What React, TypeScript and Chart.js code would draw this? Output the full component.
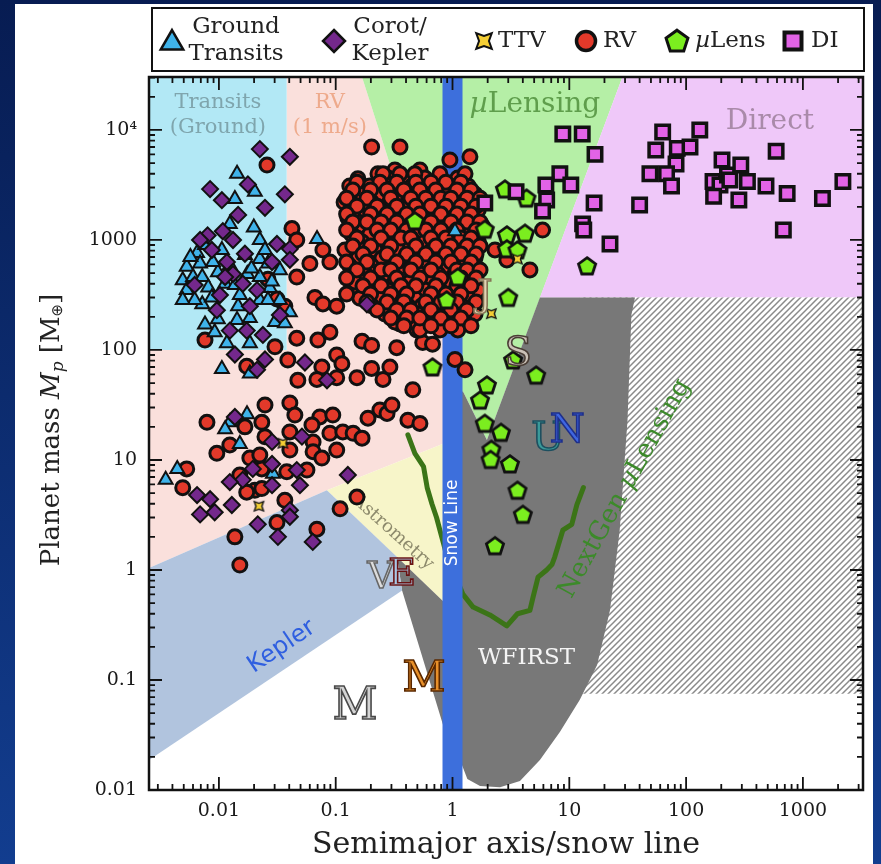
import React, { useEffect, useRef } from 'react';
import { Chart, registerables } from 'chart.js';

Chart.register(...registerables);

type P = [number, number];

const SERIF = '"DejaVu Serif", serif';
const SANS = '"DejaVu Sans", sans-serif';

const X_MIN = 0.00252;
const X_MAX = 3270;
const Y_MIN = 0.01;
const Y_MAX = 30300;

const xTicks = [0.01, 0.1, 1, 10, 100, 1000];
const xTickLabels = ['0.01', '0.1', '1', '10', '100', '1000'];
const yTicks = [0.01, 0.1, 1, 10, 100, 1000, 10000];
const yTickLabels = ['0.01', '0.1', '1', '10', '100', '1000', '10⁴'];

// ---- data: [semimajor axis / snow line, planet mass (Earth masses)] ----
const groundTransits: P[] = [
  [0.0143, 4000], [0.0137, 2360], [0.0203, 2740], [0.0124, 1400], [0.0199, 1300], [0.0692, 1020],
  [0.0224, 1000], [0.0065, 760], [0.0053, 570], [0.0069, 610], [0.0049, 430], [0.006, 460],
  [0.0072, 460], [0.0053, 350], [0.0081, 370], [0.0098, 510], [0.0224, 670], [0.0263, 610],
  [0.0175, 490], [0.0224, 460], [0.0224, 285], [0.0146, 250], [0.0072, 260], [0.0098, 190],
  [0.0092, 145], [0.0143, 187], [0.0117, 115], [0.0184, 115], [0.0106, 67], [0.0184, 61],
  [0.0302, 180], [0.0367, 175], [0.0174, 26], [0.0124, 22], [0.0113, 19], [0.0151, 14],
  [0.0044, 8.3], [0.0035, 6.6], [0.029, 7.5], [1.05, 1200], [0.0062, 285], [0.0087, 300],
  [0.0113, 400], [0.0151, 316], [0.0273, 365], [0.0333, 285], [0.0405, 220], [0.0124, 590],
  [0.0167, 730], [0.0248, 810], [0.0076, 900], [0.0333, 530],
  [0.0057, 700], [0.0089, 630], [0.0106, 811], [0.019, 550], [0.0284, 420], [0.0049, 285],
  [0.0137, 390], [0.0263, 285], [0.0184, 195], [0.0076, 170],
];

const corotKepler: P[] = [
  [0.0224, 6700], [0.0405, 5700], [0.0084, 2900], [0.0106, 2300], [0.0177, 3200], [0.0367, 2600],
  [0.008, 1100], [0.0132, 1000], [0.0314, 920], [0.0405, 830], [0.0087, 810], [0.0117, 630],
  [0.0167, 750], [0.0405, 660], [0.0132, 490], [0.0102, 316], [0.016, 400], [0.0212, 350],
  [0.0184, 250], [0.0096, 230], [0.185, 260], [0.0124, 150], [0.0173, 150], [0.0238, 137],
  [0.0137, 91], [0.0248, 82], [0.0212, 66], [0.0545, 77], [0.0842, 53], [0.0137, 24.6],
  [0.0285, 14.6], [0.0514, 16.3], [0.0285, 9.2], [0.0195, 8.3], [0.0464, 8.1], [0.016, 6.6],
  [0.0124, 6.3], [0.0285, 5.9], [0.0494, 5.9], [0.127, 7.3], [0.0065, 4.8], [0.0084, 4.4],
  [0.0069, 3.2], [0.0092, 3.35], [0.0129, 3.9], [0.0215, 2.6], [0.0405, 3.5], [0.0405, 3.05],
  [0.032, 2.0], [0.0636, 1.8],
  [0.0069, 1000], [0.0108, 1200], [0.0146, 1690], [0.0248, 1960], [0.0113, 460], [0.0285, 630],
  [0.0062, 390], [0.0333, 208],
];

const ttv: P[] = [[0.0353, 14.2], [0.022, 3.8], [3.6, 670], [2.15, 214]];

const radialVelocity: P[] = [
  // sparse
  [0.203, 7000], [0.355, 7000], [0.95, 5340], [1.41, 5700], [0.0258, 4800], [0.0422, 1270],
  [0.0464, 1000], [0.0777, 811], [0.0892, 630], [0.0601, 610], [0.0263, 440], [0.0464, 460],
  [0.0664, 300], [0.0777, 262], [0.0367, 250], [0.0314, 290], [0.155, 3600], [0.23, 4000],
  [0.137, 2200], [0.171, 2300], [0.226, 3000], [0.264, 2850], [0.152, 1720], [0.196, 1520],
  [0.254, 1400], [0.171, 1130], [0.239, 1060], [0.132, 811], [0.185, 750], [0.152, 560],
  [0.226, 610], [0.185, 433], [0.254, 460], [0.141, 351], [0.239, 320], [0.102, 250],
  [0.0076, 123], [0.0302, 107], [0.0173, 71], [0.0474, 53], [0.0389, 81], [0.0464, 128],
  [0.0704, 123], [0.0892, 145], [0.0761, 70], [0.102, 90], [0.113, 75], [0.069, 54],
  [0.102, 56], [0.152, 56], [0.168, 120], [0.203, 110], [0.203, 68], [0.254, 54],
  [0.0248, 31.6], [0.0405, 33], [0.0447, 25.6], [0.0732, 24.6], [0.0944, 25.6], [0.0626, 20.8],
  [0.0079, 22], [0.0167, 20], [0.0233, 22], [0.0248, 16.3], [0.0405, 18], [0.064, 14.6],
  [0.0892, 17.5], [0.115, 18], [0.141, 17.5], [0.168, 15.8], [0.189, 24], [0.239, 28.5],
  [0.275, 26.5], [0.0124, 13.7], [0.0096, 11.5], [0.0184, 10.4], [0.0233, 8.3], [0.0224, 11.1],
  [0.0405, 12.3], [0.064, 11.9], [0.102, 12.3], [0.0761, 10.4], [0.0567, 8.1], [0.0381, 7.8],
  [0.0053, 8.3], [0.0049, 5.6], [0.0203, 5.3], [0.0151, 7.3], [0.0233, 5.5], [0.0173, 5.1],
  [0.152, 4.6], [0.109, 3.6], [0.0367, 4.3], [0.0314, 2.7], [0.069, 2.35], [0.0137, 2.0],
  [0.0151, 1.11], [0.333, 105], [0.291, 70], [1.05, 82], [1.28, 66], [0.457, 43.5],
  [0.303, 31.6], [0.415, 23], [0.526, 21.5], [0.556, 117], [0.674, 113], [0.495, 152],
  [0.355, 172], [0.641, 208], [5.9, 1230], [4.6, 534], [2.92, 658], [2.31, 811],
  // dense cloud
  [0.321, 4330], [0.526, 4330],
  [0.28, 3650], [0.391, 3650], [0.58, 3650], [1.11, 3650],
  [0.132, 3100], [0.196, 3100], [0.321, 3100], [0.449, 3100], [0.75, 3100], [0.95, 3100], [1.36, 3100],
  [0.168, 2600], [0.239, 2600], [0.369, 2600], [0.526, 2600], [0.666, 2600], [0.861, 2600], [1.11, 2600], [1.56, 2600],
  [0.118, 2200], [0.203, 2200], [0.291, 2200], [0.415, 2200], [0.58, 2200], [0.78, 2200], [0.988, 2200], [1.28, 2200],
  [0.146, 1870], [0.178, 1870], [0.249, 1870], [0.341, 1870], [0.476, 1870], [0.641, 1870], [0.913, 1870], [1.2, 1870], [1.66, 1870],
  [0.127, 1590], [0.217, 1590], [0.303, 1590], [0.391, 1590], [0.547, 1590], [0.75, 1590], [1.05, 1590], [1.41, 1590],
  [0.161, 1340], [0.264, 1340], [0.355, 1340], [0.449, 1340], [0.615, 1340], [0.861, 1340], [1.2, 1340], [1.8, 1340],
  [0.137, 1130], [0.196, 1130], [0.321, 1130], [0.505, 1130], [0.707, 1130], [0.95, 1130], [1.41, 1130],
  [0.168, 960], [0.28, 960], [0.391, 960], [0.58, 960], [0.811, 960], [1.16, 960], [1.66, 960],
  [0.12, 811], [0.217, 811], [0.341, 811], [0.476, 811], [0.666, 811], [0.988, 811], [1.36, 811],
  [0.155, 685], [0.249, 685], [0.391, 685], [0.547, 685], [0.78, 685], [1.11, 685], [1.56, 685],
  [0.132, 580], [0.203, 580], [0.303, 580], [0.449, 580], [0.615, 580], [0.913, 580], [1.28, 580],
  [0.178, 490], [0.264, 490], [0.369, 490], [0.526, 490], [0.75, 490], [1.05, 490], [1.47, 490],
  [0.146, 415], [0.217, 415], [0.321, 415], [0.432, 415], [0.641, 415], [0.913, 415], [1.28, 415],
  [0.189, 351], [0.28, 351], [0.391, 351], [0.58, 351], [0.78, 351], [1.11, 351], [1.66, 351],
  [0.161, 296], [0.239, 296], [0.341, 296], [0.476, 296], [0.666, 296], [0.988, 296], [1.36, 296],
  [0.203, 252], [0.303, 252], [0.415, 252], [0.547, 252], [0.811, 252], [1.2, 252],
  [0.264, 212], [0.369, 212], [0.505, 212], [0.707, 212], [1.05, 212], [1.56, 212],
  [0.321, 180], [0.449, 180], [0.615, 180], [0.913, 180], [1.28, 180],
  [0.526, 152], [0.78, 152], [1.11, 152],
  [0.254, 3990], [0.355, 3990], [0.476, 3990], [0.78, 3990], [1.28, 3990],
  [0.152, 3350], [0.239, 3350], [0.333, 3350], [0.486, 3350], [0.654, 3350], [0.878, 3350], [1.18, 3350],
  [0.14, 2850], [0.199, 2850], [0.275, 2850], [0.383, 2850], [0.526, 2850], [0.72, 2850], [1.09, 2850], [1.44, 2850],
  [0.124, 2400], [0.185, 2400], [0.296, 2400], [0.44, 2400], [0.591, 2400], [0.795, 2400], [0.969, 2400], [1.33, 2400], [1.72, 2400],
  [0.152, 2030], [0.226, 2030], [0.333, 2030], [0.486, 2030], [0.654, 2030], [0.878, 2030], [1.18, 2030], [1.59, 2030],
  [0.124, 1720], [0.199, 1720], [0.275, 1720], [0.405, 1720], [0.526, 1720], [0.795, 1720], [1.09, 1720], [1.44, 1720],
  [0.14, 1460], [0.185, 1460], [0.245, 1460], [0.333, 1460], [0.486, 1460], [0.654, 1460], [0.969, 1460], [1.33, 1460], [1.72, 1460],
  [0.124, 1230], [0.226, 1230], [0.296, 1230], [0.405, 1230], [0.591, 1230], [0.795, 1230], [1.09, 1230], [1.59, 1230],
  [0.152, 1040], [0.245, 1040], [0.362, 1040], [0.44, 1040], [0.654, 1040], [0.878, 1040], [1.18, 1040], [1.44, 1040],
  [0.14, 880], [0.199, 880], [0.296, 880], [0.486, 880], [0.72, 880], [0.969, 880], [1.33, 880], [1.72, 880],
  [0.171, 745], [0.275, 745], [0.405, 745], [0.591, 745], [0.878, 745], [1.18, 745], [1.59, 745],
  [0.124, 630], [0.185, 630], [0.333, 630], [0.486, 630], [0.72, 630], [0.969, 630], [1.44, 630],
  [0.152, 534], [0.245, 534], [0.296, 534], [0.44, 534], [0.654, 534], [1.09, 534], [1.33, 534], [1.72, 534],
  [0.124, 450], [0.199, 450], [0.333, 450], [0.526, 450], [0.795, 450], [1.18, 450], [1.59, 450],
  [0.171, 383], [0.245, 383], [0.362, 383], [0.486, 383], [0.72, 383], [1.09, 383], [1.44, 383],
  [0.124, 322], [0.199, 322], [0.296, 322], [0.405, 322], [0.654, 322], [0.878, 322], [1.18, 322],
  [0.185, 273], [0.275, 273], [0.383, 273], [0.591, 273], [0.795, 273], [1.09, 273], [1.59, 273],
  [0.226, 231], [0.333, 231], [0.44, 231], [0.654, 231], [0.969, 231], [1.33, 231],
  [0.296, 195], [0.405, 195], [0.526, 195], [0.795, 195], [1.18, 195],
  [0.383, 166], [0.654, 166], [0.969, 166], [1.44, 166],
];

const microlensing: P[] = [
  [0.476, 1490], [2.81, 2900], [4.3, 2400], [1.89, 1250], [2.92, 1110], [4.17, 1150],
  [2.92, 830], [3.6, 811], [1.11, 460], [0.89, 285], [3.0, 300], [14.2, 580],
  [0.674, 70], [3.3, 81], [5.2, 59], [1.97, 48], [1.72, 35], [1.89, 21.5],
  [2.6, 17.8], [2.15, 12.5], [2.12, 10.1], [3.1, 9.2], [3.6, 5.3], [4.0, 3.2], [2.31, 1.66],
];

const directImaging: P[] = [
  [8.8, 9200], [12.9, 9200], [16.6, 6000], [8.3, 4000], [6.3, 3160], [10.3, 3160],
  [1.89, 2170], [3.5, 2740], [6.4, 2310], [5.9, 1830], [16.3, 2170], [13.0, 1400],
  [13.3, 1230], [22.3, 920], [63, 9600], [131, 10000], [55, 6580], [84, 6800],
  [108, 7000], [82, 4900], [49, 4000], [68, 4000], [75, 3100], [40, 2080],
  [203, 5340], [170, 3400], [195, 3160], [226, 3900], [237, 3510], [294, 4810],
  [335, 3400], [172, 2500], [283, 2310], [483, 3100], [590, 6400], [733, 2650],
  [680, 1230], [1470, 2380], [2200, 3400],
];

const nextGenLensing: P[] = [
  [0.415, 16.9], [0.476, 11.5], [0.565, 8.7], [0.607, 5.6], [0.666, 4.0], [0.73, 3.0],
  [0.78, 2.3], [0.89, 1.37], [1.05, 0.9], [1.23, 0.6], [1.5, 0.46], [2.09, 0.39],
  [2.92, 0.31], [3.6, 0.4], [4.6, 0.43], [4.9, 0.57], [5.4, 0.86], [6.4, 1.0],
  [7.1, 1.12], [7.5, 1.31], [8.8, 2.3], [10.5, 2.6], [11.6, 3.9], [13.2, 5.6],
];

const snowLine: P[] = [[1, Y_MIN], [1, Y_MAX]];

// ---- sensitivity regions (data coordinates) ----
const transitRegion: P[] = [[X_MIN, 100], [0.038, 100], [0.038, Y_MAX], [X_MIN, Y_MAX]];
const rvRegion: P[] = [[X_MIN, 100], [0.038, 100], [0.038, Y_MAX], [0.168, Y_MAX], [1.0, 81], [1.0, 15.2], [0.084, 5.3], [X_MIN, 1.04]];
const lensRegion: P[] = [[0.168, Y_MAX], [28.5, Y_MAX], [1.97, 15.2], [1.23, 42], [1.0, 42], [1.0, 81]];
const directRegion: P[] = [[28.5, Y_MAX], [X_MAX, Y_MAX], [X_MAX, 300], [5.6, 300]];
const hatchRegion: P[] = [[12.3, 300], [X_MAX, 300], [X_MAX, 0.075], [12.3, 0.075]];
const astrometryRegion: P[] = [[0.084, 5.3], [1.0, 15.2], [1.0, 0.43]];
const wfirstRegion: P[] = [
  [0.37, 0.65], [0.335, 1.31], [1.0, 0.43], [1.0, 42], [1.23, 42], [1.97, 15.2], [5.6, 300],
  [36.5, 300], [34, 208], [31.5, 23], [27, 2.3], [22.3, 0.43], [17.3, 0.137], [12.3, 0.066],
  [8.3, 0.0337], [5.6, 0.0187], [3.78, 0.0121], [2.55, 0.0106], [1.72, 0.0109], [1.34, 0.0126],
  [1.16, 0.0187], [0.83, 0.039],
];
const keplerRegion: P[] = [[X_MIN, 1.04], [0.084, 5.3], [0.335, 1.31], [0.37, 0.65], [X_MIN, 0.0187]];

// ---- drawing helpers ----
function shapePath(ctx: CanvasRenderingContext2D, kind: string, x: number, y: number, r: number) {
  ctx.beginPath();
  if (kind === 'circle') {
    ctx.arc(x, y, r, 0, Math.PI * 2);
  } else if (kind === 'triangle') {
    for (let i = 0; i < 3; i++) {
      const a = -Math.PI / 2 + (i * 2 * Math.PI) / 3;
      const px = x + r * Math.cos(a), py = y + r * Math.sin(a);
      i ? ctx.lineTo(px, py) : ctx.moveTo(px, py);
    }
  } else if (kind === 'diamond') {
    ctx.moveTo(x, y - r); ctx.lineTo(x + r, y); ctx.lineTo(x, y + r); ctx.lineTo(x - r, y);
  } else if (kind === 'square') {
    ctx.rect(x - r, y - r, 2 * r, 2 * r);
  } else if (kind === 'pentagon') {
    for (let i = 0; i < 5; i++) {
      const a = -Math.PI / 2 + (i * 2 * Math.PI) / 5;
      const px = x + r * Math.cos(a), py = y + r * Math.sin(a);
      i ? ctx.lineTo(px, py) : ctx.moveTo(px, py);
    }
  } else if (kind === 'star4') {
    for (let i = 0; i < 8; i++) {
      const a = -Math.PI / 4 + (i * Math.PI) / 4;
      const rr = i % 2 === 0 ? r : r * 0.45;
      const px = x + rr * Math.cos(a), py = y + rr * Math.sin(a);
      i ? ctx.lineTo(px, py) : ctx.moveTo(px, py);
    }
  }
  ctx.closePath();
}

function drawShape(ctx: CanvasRenderingContext2D, kind: string, x: number, y: number, r: number, fill: string, lw: number) {
  shapePath(ctx, kind, x, y, r);
  ctx.fillStyle = fill;
  ctx.fill();
  ctx.lineWidth = lw;
  ctx.strokeStyle = '#111';
  ctx.lineJoin = 'miter';
  ctx.stroke();
}

function makeMarker(kind: string, size: number, r: number, fill: string, lw: number) {
  const c = document.createElement('canvas');
  c.width = size; c.height = size;
  const g = c.getContext('2d') as CanvasRenderingContext2D;
  drawShape(g, kind, size / 2, size / 2 + (kind === 'pentagon' ? 0.7 : 0), r, fill, lw);
  return c;
}

type Run = { t: string; font: string; dy?: number };
function drawRuns(ctx: CanvasRenderingContext2D, runs: Run[], cx: number, cy: number, angle: number, color: string, align = 'center') {
  ctx.save();
  ctx.translate(cx, cy);
  ctx.rotate(angle);
  ctx.fillStyle = color;
  ctx.textBaseline = 'middle';
  ctx.textAlign = 'left';
  let w = 0;
  runs.forEach((r) => { ctx.font = r.font; w += ctx.measureText(r.t).width; });
  let x = align === 'center' ? -w / 2 : 0;
  runs.forEach((r) => {
    ctx.font = r.font;
    ctx.fillText(r.t, x, r.dy || 0);
    x += ctx.measureText(r.t).width;
  });
  ctx.restore();
}

function letter(ctx: CanvasRenderingContext2D, t: string, x: number, y: number, size: number, fill: string, stroke: string) {
  ctx.save();
  ctx.font = `${size}px ${SERIF}`;
  ctx.textAlign = 'center';
  ctx.textBaseline = 'middle';
  ctx.lineWidth = 1.6;
  ctx.strokeStyle = stroke;
  ctx.fillStyle = fill;
  ctx.fillText(t, x, y);
  ctx.strokeText(t, x, y);
  ctx.restore();
}

const mk = (arr: P[]) => arr.map(([x, y]) => ({ x, y }));

export default function App() {
  const ref = useRef<HTMLCanvasElement | null>(null);

  useEffect(() => {
    const canvas = ref.current;
    if (!canvas) return;

    const pentImg = makeMarker('pentagon', 22, 9, '#7bee1f', 2.8);
    const starImg = makeMarker('star4', 15, 6.5, '#f5cf35', 1.4);
    const legendPent = makeMarker('pentagon', 28, 11.5, '#7bee1f', 3);

    const hatchCanvas = document.createElement('canvas');
    hatchCanvas.width = 6; hatchCanvas.height = 6;
    const hg = hatchCanvas.getContext('2d') as CanvasRenderingContext2D;
    hg.fillStyle = '#ffffff'; hg.fillRect(0, 0, 6, 6);
    hg.strokeStyle = '#8a8a8a'; hg.lineWidth = 1.5;
    hg.beginPath();
    hg.moveTo(0, 6); hg.lineTo(6, 0);
    hg.moveTo(-1, 1); hg.lineTo(1, -1);
    hg.moveTo(5, 7); hg.lineTo(7, 5);
    hg.stroke();

    const bgPlugin = {
      id: 'bgPanel',
      beforeDraw(chart: any) {
        const { ctx, width, height } = chart;
        ctx.save();
        const g = ctx.createLinearGradient(0, 0, 0, height);
        g.addColorStop(0, '#071c52');
        g.addColorStop(1, '#123d8f');
        ctx.fillStyle = g;
        ctx.fillRect(0, 0, width, height);
        ctx.fillStyle = '#ffffff';
        ctx.fillRect(15, 4, 858, height - 4);
        ctx.restore();
      },
    };

    const regionPlugin = {
      id: 'regions',
      beforeDatasetsDraw(chart: any) {
        const { ctx, chartArea: a, scales } = chart;
        const X = (v: number) => scales.x.getPixelForValue(v);
        const Y = (v: number) => scales.y.getPixelForValue(v);
        const poly = (pts: P[], fill: any) => {
          ctx.beginPath();
          pts.forEach(([x, y], i) => (i ? ctx.lineTo(X(x), Y(y)) : ctx.moveTo(X(x), Y(y))));
          ctx.closePath();
          ctx.fillStyle = fill;
          ctx.fill();
        };
        ctx.save();
        ctx.beginPath();
        ctx.rect(a.left, a.top, a.right - a.left, a.bottom - a.top);
        ctx.clip();
        poly(rvRegion, '#fae0dc');
        poly(transitRegion, '#b2e8f5');
        poly(lensRegion, '#b5efa6');
        poly(directRegion, '#efc8f9');
        poly(hatchRegion, ctx.createPattern(hatchCanvas, 'repeat'));
        poly(astrometryRegion, '#f7f5c9');
        poly(wfirstRegion, '#787878');
        poly(keplerRegion, '#b1c4de');

        ctx.textAlign = 'center';
        ctx.textBaseline = 'middle';
        ctx.font = `21px ${SERIF}`;
        ctx.fillStyle = '#7fa5ad';
        ctx.fillText('Transits', X(0.0098), Y(17600));
        ctx.fillText('(Ground)', X(0.0098), Y(10600));
        ctx.fillStyle = '#eeaa8c';
        ctx.fillText('RV', X(0.089), Y(17600));
        ctx.fillText('(1 m/s)', X(0.089), Y(10600));
        drawRuns(ctx, [
          { t: 'µ', font: `italic 28px ${SERIF}` },
          { t: 'Lensing', font: `28px ${SERIF}` },
        ], X(5.08), Y(16900), 0, '#5f9e4c');
        ctx.font = `28px ${SERIF}`;
        ctx.fillStyle = '#a98aa9';
        ctx.fillText('Direct', X(522), Y(11800));
        drawRuns(ctx, [{ t: 'Astrometry', font: `18px ${SERIF}` }], X(0.31), Y(2.2), (42 * Math.PI) / 180, '#8d8a6c');
        drawRuns(ctx, [{ t: 'Kepler', font: `24px ${SANS}` }], X(0.0345), Y(0.2), (-34 * Math.PI) / 180, '#2f5fe0');
        drawRuns(ctx, [{ t: 'WFIRST', font: `23px ${SERIF}` }], X(4.3), Y(0.158), 0, '#f4f4f4');
        drawRuns(ctx, [
          { t: 'NextGen ', font: `26px ${SERIF}` },
          { t: 'µ', font: `italic 26px ${SERIF}` },
          { t: 'Lensing', font: `26px ${SERIF}` },
        ], X(29.9), Y(5.5), (-61 * Math.PI) / 180, '#3c8a2a');
        ctx.restore();
      },
      afterDatasetDraw(chart: any, args: any) {
        const ds = chart.data.datasets[args.index];
        if (ds.label !== 'Snow line') return;
        const { ctx, scales } = chart;
        drawRuns(ctx, [{ t: 'Snow Line', font: `17px ${SANS}` }],
          scales.x.getPixelForValue(1), scales.y.getPixelForValue(2.68), -Math.PI / 2, '#ffffff');
      },
      afterDatasetsDraw(chart: any) {
        const { ctx, scales } = chart;
        const X = (v: number) => scales.x.getPixelForValue(v);
        const Y = (v: number) => scales.y.getPixelForValue(v);
        letter(ctx, 'M', X(0.146), Y(0.056), 44, '#d4d4d4', '#4a4a4a');
        letter(ctx, 'M', X(0.57), Y(0.1), 42, '#e8902a', '#5a2800');
        letter(ctx, 'V', X(0.245), Y(0.85), 38, '#dcdcdc', '#666666');
        letter(ctx, 'E', X(0.37), Y(0.9), 38, '#a9c8e6', '#6a1212');
        letter(ctx, 'J', X(1.89), Y(310), 38, '#e2d4b4', '#857555');
        letter(ctx, 'S', X(3.65), Y(90), 40, '#cbc2b7', '#4a3e36');
        letter(ctx, 'U', X(6.6), Y(15.2), 40, '#3a9a9a', '#1d4f5f');
        letter(ctx, 'N', X(9.6), Y(18.0), 40, '#3f66e0', '#1e2f8a');
      },
      afterDraw(chart: any) {
        const { ctx, chartArea: a, scales } = chart;
        ctx.save();
        ctx.strokeStyle = '#111';
        ctx.lineWidth = 2.5;
        ctx.strokeRect(a.left, a.top, a.right - a.left, a.bottom - a.top);
        const minors: number[] = [];
        for (let e = -3; e <= 4; e++) for (let m = 2; m <= 9; m++) minors.push(m * Math.pow(10, e));
        ctx.lineWidth = 1.8;
        ctx.beginPath();
        const xt = (v: number, len: number) => {
          if (v < X_MIN || v > X_MAX) return;
          const px = scales.x.getPixelForValue(v);
          ctx.moveTo(px, a.bottom); ctx.lineTo(px, a.bottom - len);
          ctx.moveTo(px, a.top); ctx.lineTo(px, a.top + len);
        };
        const yt = (v: number, len: number) => {
          if (v < Y_MIN || v > Y_MAX) return;
          const py = scales.y.getPixelForValue(v);
          ctx.moveTo(a.left, py); ctx.lineTo(a.left + len, py);
          ctx.moveTo(a.right, py); ctx.lineTo(a.right - len, py);
        };
        xTicks.forEach((v) => xt(v, 13));
        yTicks.forEach((v) => yt(v, 13));
        minors.forEach((v) => { xt(v, 6); yt(v, 6); });
        ctx.stroke();

        drawRuns(ctx, [
          { t: 'Planet mass ', font: `26px ${SERIF}` },
          { t: 'M', font: `italic 26px ${SERIF}` },
          { t: 'p', font: `italic 17px ${SERIF}`, dy: 7 },
          { t: ' [M', font: `26px ${SERIF}` },
          { t: '⊕', font: `15px ${SANS}`, dy: 6 },
          { t: ']', font: `26px ${SERIF}` },
        ], 52, 430, -Math.PI / 2, '#222222');

        ctx.fillStyle = '#ffffff';
        ctx.fillRect(152, 8, 712, 63);
        ctx.lineWidth = 2;
        ctx.strokeStyle = '#111';
        ctx.strokeRect(152, 8, 712, 63);
        drawShape(ctx, 'triangle', 172, 43, 13, '#3fb3ea', 2.5);
        drawShape(ctx, 'diamond', 334, 41, 11, '#74288c', 2.5);
        drawShape(ctx, 'star4', 484, 41, 11, '#f5cf35', 2);
        drawShape(ctx, 'circle', 586, 41, 9.5, '#e3392a', 3.5);
        ctx.drawImage(legendPent, 677 - 14, 41 - 14);
        drawShape(ctx, 'square', 793, 41, 8.5, '#e263e6', 4);
        ctx.fillStyle = '#222';
        ctx.font = `23px ${SERIF}`;
        ctx.textBaseline = 'middle';
        ctx.textAlign = 'center';
        ctx.fillText('Ground', 236, 27);
        ctx.fillText('Transits', 236, 54);
        ctx.fillText('Corot/', 390, 27);
        ctx.fillText('Kepler', 390, 54);
        ctx.textAlign = 'left';
        ctx.fillText('TTV', 498, 41);
        ctx.fillText('RV', 603, 41);
        ctx.fillText('DI', 811, 41);
        ctx.restore();
        drawRuns(ctx, [
          { t: 'µ', font: `italic 23px ${SERIF}` },
          { t: 'Lens', font: `23px ${SERIF}` },
        ], 695, 41, 0, '#222222', 'left');
      },
    };

    const chart = new Chart(canvas, {
      type: 'scatter',
      data: {
        datasets: [
          {
            label: 'NextGen µLensing', data: mk(nextGenLensing), showLine: true,
            borderColor: '#3b7417', borderWidth: 5, pointRadius: 0, borderJoinStyle: 'round',
            borderCapStyle: 'round', order: 20,
          } as any,
          {
            label: 'Snow line', data: mk(snowLine), showLine: true, borderColor: '#3d6fdc',
            borderWidth: 20, pointRadius: 0, borderCapStyle: 'butt', order: 19,
          },
          {
            label: 'RV', data: mk(radialVelocity), pointStyle: 'circle', pointRadius: 7,
            pointBackgroundColor: '#e3392a', pointBorderColor: '#111', pointBorderWidth: 3, order: 7,
          },
          {
            label: 'Ground Transits', data: mk(groundTransits), pointStyle: 'triangle', pointRadius: 8,
            pointBackgroundColor: '#3fb3ea', pointBorderColor: '#111', pointBorderWidth: 2, order: 6,
          },
          {
            label: 'Corot/Kepler', data: mk(corotKepler), pointStyle: 'rectRot', pointRadius: 8,
            pointBackgroundColor: '#74288c', pointBorderColor: '#111', pointBorderWidth: 2, order: 5,
          },
          { label: 'µLens', data: mk(microlensing), pointStyle: pentImg, order: 3 },
          {
            label: 'DI', data: mk(directImaging), pointStyle: 'rect', pointRadius: 9.5,
            pointBackgroundColor: '#e263e6', pointBorderColor: '#111', pointBorderWidth: 3.5, order: 2,
          },
          { label: 'TTV', data: mk(ttv), pointStyle: starImg, order: 1 },
        ],
      },
      options: {
        responsive: false,
        animation: false,
        devicePixelRatio: 1,
        events: [],
        layout: { padding: { left: 0, right: 18, top: 77, bottom: 0 } },
        plugins: { legend: { display: false }, tooltip: { enabled: false } },
        scales: {
          x: {
            type: 'logarithmic', position: 'bottom', min: X_MIN, max: X_MAX,
            afterBuildTicks: (s: any) => { s.ticks = xTicks.map((v) => ({ value: v, major: true })); },
            afterFit: (s: any) => { s.height = 74; },
            ticks: {
              autoSkip: false, maxRotation: 0, minRotation: 0, padding: 10, color: '#1a1a1a',
              font: { family: SERIF, size: 19 },
              callback: (_v: any, i: number) => xTickLabels[i],
            },
            grid: { display: false, drawTicks: false },
            border: { display: false },
            title: {
              display: true, text: 'Semimajor axis/snow line', color: '#222',
              font: { family: SERIF, size: 30 }, padding: { top: 0, bottom: 1 },
            },
          },
          y: {
            type: 'logarithmic', position: 'left', min: Y_MIN, max: Y_MAX,
            afterBuildTicks: (s: any) => { s.ticks = yTicks.map((v) => ({ value: v, major: true })); },
            afterFit: (s: any) => { s.width = 149; },
            ticks: {
              autoSkip: false, padding: 12, color: '#1a1a1a',
              font: { family: SERIF, size: 19 },
              callback: (_v: any, i: number) => yTickLabels[i],
            },
            grid: { display: false, drawTicks: false },
            border: { display: false },
            title: { display: false },
          },
        },
      } as any,
      plugins: [bgPlugin, regionPlugin],
    });

    return () => chart.destroy();
  }, []);

  return (
    <div style={{ position: 'absolute', left: 0, top: 0, width: 881, height: 864 }}>
      <canvas ref={ref} width={881} height={864} style={{ display: 'block' }} />
    </div>
  );
}
